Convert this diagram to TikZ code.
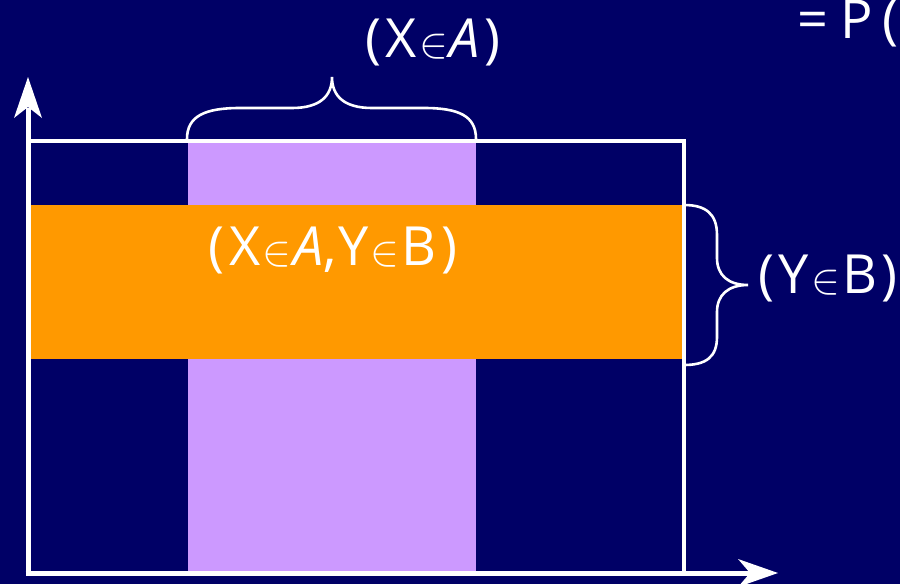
\RequirePackage{fix-cm}
\documentclass[tikz,border=0pt]{standalone}
\usepackage{fontspec}
\setmainfont{Open Sans}
\definecolor{bg}{HTML}{000066}
\definecolor{lav}{HTML}{CC99FF}
\definecolor{org}{HTML}{FF9900}
\tikzset{
  lbl/.style={text=white, inner sep=0pt, font=\fontsize{54}{64}\selectfont\addfontfeatures{LetterSpace=9}},
  frameline/.style={draw=white, line width=4.5pt},
  axisline/.style={draw=white, line width=5pt},
  bracepath/.style={draw=white, line width=2.6pt, line cap=round},
  tipfill/.style={fill=white}
}
\newcommand{\mysym}{\kern2pt\scalebox{0.8}{$\in$}\kern2pt}
\begin{document}
\begin{tikzpicture}[x=1pt,y=-1pt]
\useasboundingbox (0,0) rectangle (900,584);
\fill[bg] (0,0) rectangle (900,584);
% bands
\fill[lav] (188,142) rectangle (476,571);
\fill[org] (30,205) rectangle (684,359);
% frame
\draw[frameline] (26,141) -- (684,141) -- (684,573);
% axes
\coordinate (O) at (28,573);
\coordinate (yend) at (28,108);
\coordinate (xend) at (750,573);
\draw[axisline] (28,575.5) -- (yend);
\draw[axisline] (25.5,573) -- (xend);
\fill[tipfill] (28,77) -- (42,118) -- (28,107) -- (14,118) -- cycle;
\fill[tipfill] (778,573) -- (738,559) -- (750,573) -- (738,587) -- cycle;
% top brace
\draw[bracepath] (187,139) .. controls (187,116) and (205,108) .. (240,108)
  -- (292,108) .. controls (320,108) and (332,96) .. (332,77)
  .. controls (332,96) and (344,108) .. (372,108) -- (424,108)
  .. controls (459,108) and (476,116) .. (476,139);
% right brace
\draw[bracepath] (684,205) .. controls (706,205) and (717,214) .. (717,235)
  -- (717,258) .. controls (717,275) and (728,285) .. (748,285)
  .. controls (728,285) and (717,295) .. (717,312) -- (717,337)
  .. controls (717,357) and (706,365) .. (684,365);
% labels
\node[lbl, anchor=base] (xa) at (433,57) {(X\mysym\textit{A})};
\node[lbl, anchor=base] (xayb) at (333,265) {(X\mysym\textit{A},Y\mysym B)};
\node[lbl, anchor=base west] (yb) at (758,293) {(Y\mysym B)};
\node[lbl, anchor=base west] (eqp) at (797,38) {=\kern12pt P\kern10pt(};
\end{tikzpicture}
\end{document}
